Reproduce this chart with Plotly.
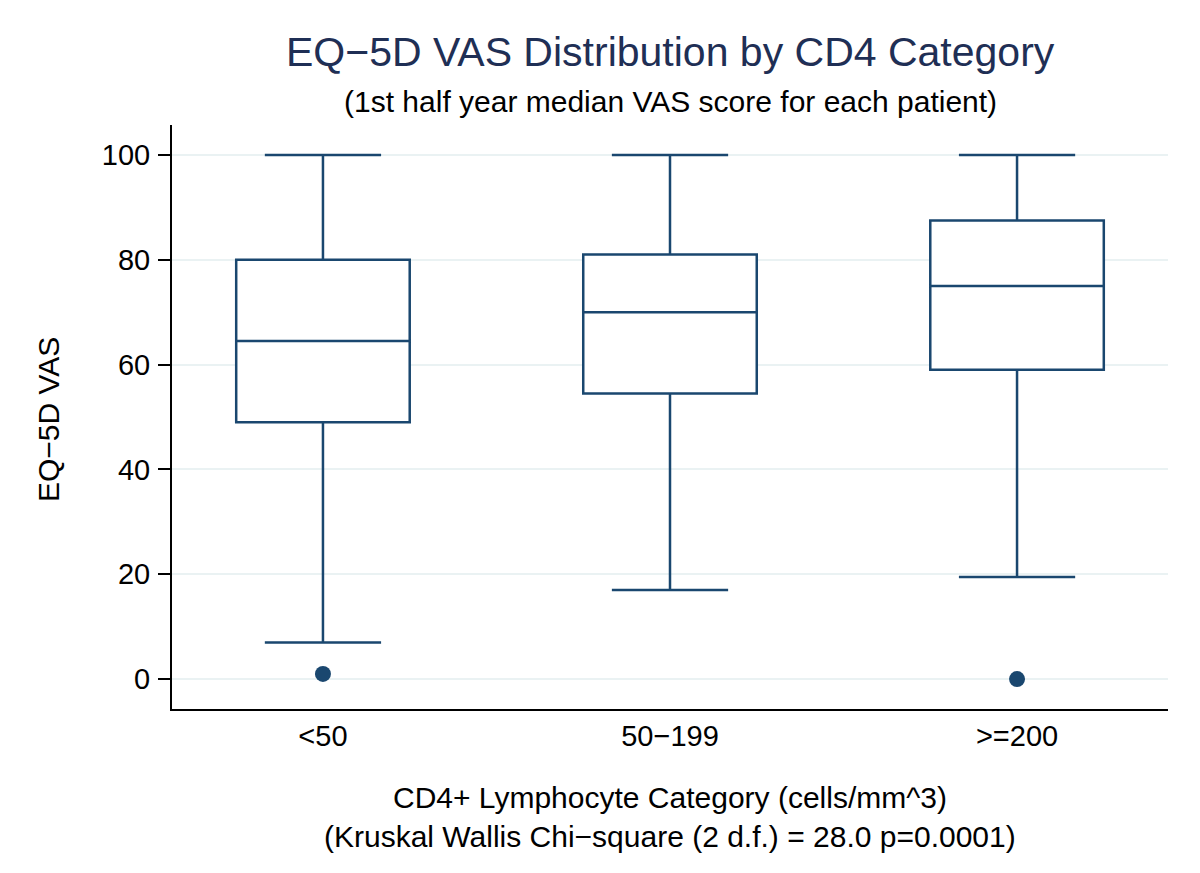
import plotly.graph_objects as go

categories = ["<50", "50\u2212199", ">=200"]
lower_whisker = [7, 17, 19.5]
q1 = [49, 54.5, 59]
median = [64.5, 70, 75]
q3 = [80, 81, 87.5]
upper_whisker = [100, 100, 100]

outlier_cats = ["<50", ">=200"]
outlier_vals = [1, 0]

y_ticks = [0, 20, 40, 60, 80, 100]

navy = "#1a476f"
font_family = "Liberation Sans, Arial, Helvetica, sans-serif"

PLOT_H = 584

fig = go.Figure()
fig.add_trace(go.Box(
    x=categories, q1=q1, median=median, q3=q3,
    lowerfence=lower_whisker, upperfence=upper_whisker,
    boxpoints=False, width=0.5, whiskerwidth=0.67,
    fillcolor="white", line=dict(color=navy, width=2.5),
    showlegend=False, hoverinfo="skip",
))
fig.add_trace(go.Scatter(
    x=outlier_cats, y=outlier_vals, mode="markers",
    marker=dict(color=navy, size=16, line=dict(width=0)),
    showlegend=False, hoverinfo="skip",
))

fig.update_layout(
    width=1192, height=865,
    margin=dict(l=164, r=32, t=117, b=164),
    paper_bgcolor="white", plot_bgcolor="white",
    font=dict(family=font_family, size=29, color="black"),
    xaxis=dict(
        type="category", categoryorder="array", categoryarray=categories,
        range=[-0.435, 2.435], showgrid=False, zeroline=False,
        showline=True, linecolor="black", linewidth=2,
        ticks="", ticklabelstandoff=0,
        tickfont=dict(size=29, color="black"),
    ),
    yaxis=dict(
        range=[-5.7, 105.7], tickvals=y_ticks,
        showgrid=True, gridcolor="#eaf2f3", gridwidth=2,
        zeroline=False, showline=True, linecolor="black", linewidth=2,
        ticks="outside", ticklen=12, tickwidth=2, tickcolor="black",
        ticklabelstandoff=2,
        tickfont=dict(size=29, color="black"),
    ),
    annotations=[
        dict(text="EQ\u22125D VAS Distribution by CD4 Category", xref="paper", yref="paper",
             x=0.5, y=1 + 73 / PLOT_H, xanchor="center", yanchor="middle", showarrow=False,
             font=dict(size=41, color="#1f2f55", family=font_family)),
        dict(text="(1st half year median VAS score for each patient)", xref="paper", yref="paper",
             x=0.5, y=1 + 24 / PLOT_H, xanchor="center", yanchor="middle", showarrow=False,
             font=dict(size=30, color="black", family=font_family)),
        dict(text="CD4+ Lymphocyte Category (cells/mm^3)", xref="paper", yref="paper",
             x=0.5, y=-88 / PLOT_H, xanchor="center", yanchor="middle", showarrow=False,
             font=dict(size=30, color="black", family=font_family)),
        dict(text="(Kruskal Wallis Chi\u2212square (2 d.f.) = 28.0 p=0.0001)", xref="paper", yref="paper",
             x=0.5, y=-127 / PLOT_H, xanchor="center", yanchor="middle", showarrow=False,
             font=dict(size=30, color="black", family=font_family)),
        dict(text="EQ\u22125D VAS", xref="paper", yref="paper", textangle=-90,
             x=(48 - 172) / 996, y=(709 - 420) / PLOT_H, xanchor="center", yanchor="middle", showarrow=False,
             font=dict(size=30, color="black", family=font_family)),
    ],
)

fig.write_html("out.html")
